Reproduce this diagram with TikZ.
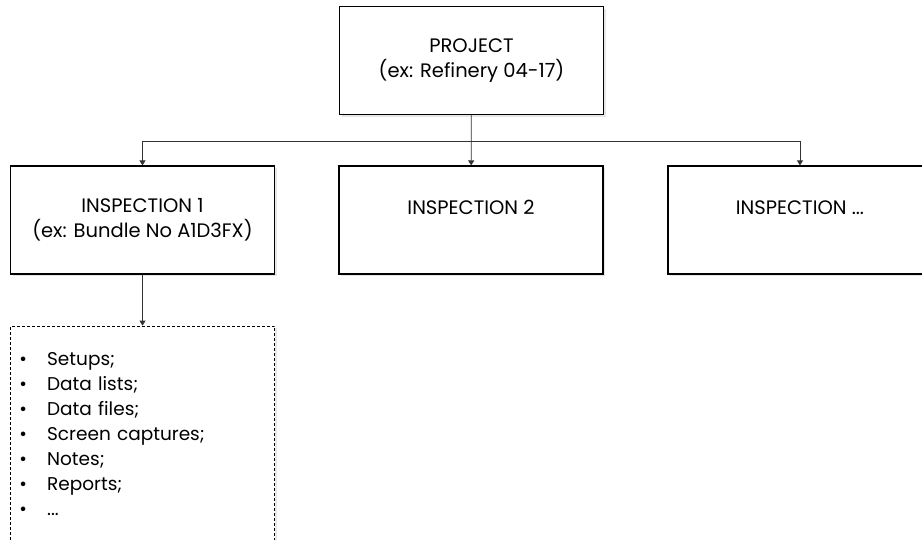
\documentclass[tikz,border=0pt]{standalone}
\usepackage{fontspec}
\setmainfont{Poppins}
\usetikzlibrary{arrows.meta}
\usetikzlibrary{shadows}

\tikzset{
  boite/.style={draw, line width=1.2pt, fill=white, minimum width=264pt,
    minimum height=108pt, align=center, font=\fontsize{19.5}{25}\selectfont,
    drop shadow={opacity=0.2, shadow xshift=2pt, shadow yshift=-2pt}},
  fleche/.style={draw=black!80, line width=0.7pt, -{Triangle[length=5pt, width=6pt]}}
}

\begin{document}
\begin{tikzpicture}[x=1pt, y=-1pt]
  \useasboundingbox (0,0) rectangle (922,539);
  \clip (0,0) rectangle (922,539);

  \node[boite] (projet) at (471.5,60.5) {PROJECT\\(ex: Refinery 04-17)};
  \node[boite] (insp1) at (142.5,220) {INSPECTION 1\\(ex: Bundle No A1D3FX)};
  \node[boite] (insp2) at (471,220) {INSPECTION 2\\\mbox{}};
  \node[boite] (insp3) at (800,220) {INSPECTION ...\\\mbox{}};

  % liste des fichiers
  \node[boite, densely dashed, line width=0.7pt, minimum height=216pt, text width=246pt,
    inner xsep=9pt, align=left, font=\fontsize{18.5}{25}\selectfont] (fichiers) at (142.5,434)
    {\textbullet\hspace{20pt}Setups;\\
     \textbullet\hspace{20pt}Data lists;\\
     \textbullet\hspace{20pt}Data files;\\
     \textbullet\hspace{20pt}Screen captures;\\
     \textbullet\hspace{20pt}Notes;\\
     \textbullet\hspace{20pt}Reports;\\
     \textbullet\hspace{20pt}...};

  \coordinate (bus) at (471.5,141);
  \draw[fleche] (projet) -- (insp2);
  \draw[fleche] (bus) -| (insp1.north);
  \draw[fleche] (bus) -| (insp3.north);
  \draw[fleche] (insp1) -- (fichiers);
\end{tikzpicture}
\end{document}
